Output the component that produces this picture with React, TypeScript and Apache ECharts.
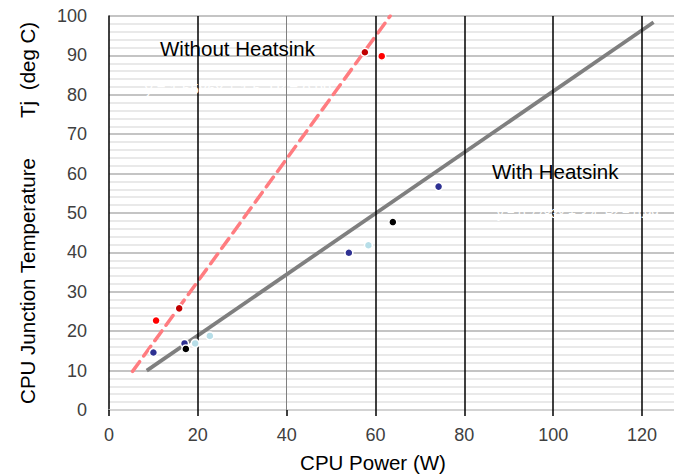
import React, { useEffect, useRef } from "react";
import * as echarts from "echarts";

// Measured points (CPU power W, junction temperature °C)
const redPoints: [number, number][] = [[10.6, 22.7], [61.4, 89.8]];
const darkRedPoints: [number, number][] = [[15.8, 25.8], [57.6, 90.8]];
const bluePoints: [number, number][] = [[10.0, 14.6], [17.0, 16.9], [54.0, 39.9], [74.2, 56.7]];
const blackPoints: [number, number][] = [[17.3, 15.5], [63.9, 47.7]];
const cyanPoints: [number, number][] = [[19.4, 16.9], [22.7, 18.8], [58.4, 41.8]];

// Trend lines (end points)
const withoutHeatsinkTrend: [number, number][] = [[5.3, 9.8], [63.3, 100]];
const withHeatsinkTrend: [number, number][] = [[8.5, 10], [122.6, 98.4]];

const verticalLines = [20, 40, 60, 80, 100, 120];
const xTicks = { min: 0, max: 127.2, interval: 20 };
const yTicks = { min: 0, max: 100, interval: 10 };

const FONT = "Liberation Sans, Arial, sans-serif";

export default function App() {
  const ref = useRef<HTMLDivElement>(null);
  useEffect(() => {
    if (!ref.current) return;
    const chart = echarts.init(ref.current, undefined, { renderer: "svg" });
    const scatter = (name: string, data: [number, number][], color: string) => ({
      name,
      type: "scatter",
      data,
      symbolSize: 8,
      z: 5,
      itemStyle: { color, borderColor: "#ffffff", borderWidth: 1.5, opacity: 1 },
    });
    const label = (text: string, x: number, y: number, extra: any = {}) => ({
      type: "text",
      x,
      y,
      z: 10,
      ...extra,
      style: {
        text,
        fontFamily: FONT,
        fontSize: 20.5,
        fill: "#000000",
        textAlign: "left",
        textVerticalAlign: "middle",
        ...(extra.style || {}),
      },
    });
    chart.setOption({
      animation: false,
      backgroundColor: "#ffffff",
      grid: { left: 109, right: 0, top: 16, bottom: 65, containLabel: false },
      xAxis: {
        type: "value",
        min: xTicks.min,
        max: xTicks.max,
        interval: xTicks.interval,
        splitLine: { show: false },
        axisLine: { show: true, lineStyle: { color: "#d9d9d9", width: 1.5 } },
        axisTick: { show: true, length: 6, lineStyle: { color: "#000000", width: 1.5 } },
        axisLabel: {
          show: true,
          fontFamily: FONT,
          fontSize: 18,
          color: "#404040",
          margin: 16,
          showMaxLabel: false,
        },
      },
      yAxis: {
        type: "value",
        min: yTicks.min,
        max: yTicks.max,
        interval: yTicks.interval,
        axisLine: { show: true, lineStyle: { color: "#000000", width: 1.5 } },
        axisTick: { show: false },
        axisLabel: { fontFamily: FONT, fontSize: 18, color: "#404040", margin: 22 },
        splitLine: { show: true, lineStyle: { color: "#b0b0b0", width: 1.5 } },
        minorTick: { show: false, splitNumber: 5 },
        minorSplitLine: { show: true, lineStyle: { color: "#e2e2e2", width: 1.5 } },
      },
      graphic: [
        label("Without Heatsink", 160, 48),
        label("With Heatsink", 492, 171),
        label("y = 1.5586x + 1.5  R² = 0.99", 145, 88, {
          style: { fontSize: 15, fill: "#ffffff" },
        }),
        label("y = 0.7783x + 3.4  R² = 0.99", 497, 213, {
          style: { fontSize: 13, fill: "#ffffff" },
        }),
        label("CPU Junction Temperature", 27, 281, {
          rotation: Math.PI / 2,
          style: { textAlign: "center" },
        }),
        label("Tj", 27, 109.5, { rotation: Math.PI / 2, style: { textAlign: "center" } }),
        label("(deg C)", 27, 56, { rotation: Math.PI / 2, style: { textAlign: "center" } }),
        label("CPU Power (W)", 373, 462, { style: { textAlign: "center" } }),
      ],
      series: [
        {
          name: "grid verticals",
          type: "line",
          data: [],
          z: 1,
          silent: true,
          markLine: {
            silent: true,
            symbol: ["none", "none"],
            label: { show: false },
            data: verticalLines.map((v) => ({
              xAxis: v,
              lineStyle: {
                type: "solid",
                color: v === 40 ? "#808080" : "#000000",
                width: v === 40 ? 1 : 1.5,
              },
            })),
          },
        },
        {
          name: "Without Heatsink trend",
          type: "line",
          data: withoutHeatsinkTrend,
          symbol: "none",
          z: 3,
          lineStyle: { color: "#ff7c80", width: 3.5, type: [12, 7], cap: "round" },
        },
        {
          name: "With Heatsink trend",
          type: "line",
          data: withHeatsinkTrend,
          symbol: "none",
          z: 3,
          lineStyle: { color: "#7f7f7f", width: 3.8 },
        },
        scatter("Red", redPoints, "#ff0000"),
        scatter("Dark red", darkRedPoints, "#c00000"),
        scatter("Cyan", cyanPoints, "#b7dee8"),
        scatter("Blue", bluePoints, "#2e3192"),
        scatter("Black", blackPoints, "#000000"),
      ],
    });
    return () => chart.dispose();
  }, []);
  return (
    <div
      ref={ref}
      style={{ position: "fixed", left: 0, top: 0, width: 674, height: 475, background: "#fff" }}
    />
  );
}
